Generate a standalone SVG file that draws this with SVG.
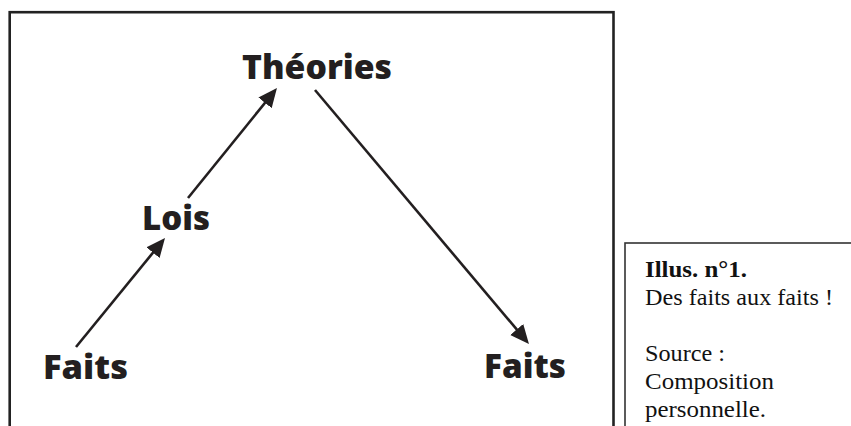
<svg xmlns="http://www.w3.org/2000/svg" width="851" height="426" viewBox="0 0 851 426">
  <style>
    .lbl { font-family: "Open Sans", "Noto Sans", sans-serif; font-weight: 800; font-size: 34px; fill: #231f20; }
    .cap { font-family: "Liberation Serif", serif; font-size: 23px; fill: #111; }
    .capb { font-weight: 700; }
    .edge { stroke: #231f20; stroke-width: 2.6; fill: none; marker-end: url(#ah); }
  </style>
  <defs>
    <marker id="ah" markerUnits="userSpaceOnUse" markerWidth="19" markerHeight="18" refX="13" refY="8.5" orient="auto">
      <path d="M0,0 L19,8.5 L0,17 z" fill="#231f20"/>
    </marker>
  </defs>
  <rect width="851" height="426" fill="#ffffff"/>
  <g id="frame">
    <rect x="9.7" y="12.2" width="603.8" height="430" fill="none" stroke="#222" stroke-width="2.6"/>
  </g>
  <g id="connectors">
    <line class="edge" x1="76" y1="347" x2="161.2" y2="242.6"/>
    <line class="edge" x1="188" y1="198" x2="273.2" y2="92.7"/>
    <line class="edge" x1="315" y1="90" x2="525.1" y2="339.4"/>
  </g>
  <g id="node-theories"><text class="lbl" x="242" y="79" textLength="150" lengthAdjust="spacingAndGlyphs">Théories</text></g>
  <g id="node-lois"><text class="lbl" x="142" y="230" textLength="68" lengthAdjust="spacingAndGlyphs">Lois</text></g>
  <g id="node-faits-1"><text class="lbl" x="43" y="379" textLength="85" lengthAdjust="spacingAndGlyphs">Faits</text></g>
  <g id="node-faits-2"><text class="lbl" x="484" y="378" textLength="82" lengthAdjust="spacingAndGlyphs">Faits</text></g>
  <g id="caption">
    <rect x="625" y="243" width="240" height="200" fill="none" stroke="#333" stroke-width="1.6"/>
    <text class="cap capb" x="645" y="277" textLength="102" lengthAdjust="spacingAndGlyphs">Illus. n°1.</text>
    <text class="cap" x="645" y="305" textLength="188" lengthAdjust="spacingAndGlyphs">Des faits aux faits !</text>
    <text class="cap" x="645" y="361" textLength="80" lengthAdjust="spacingAndGlyphs">Source :</text>
    <text class="cap" x="645" y="389" textLength="129" lengthAdjust="spacingAndGlyphs">Composition</text>
    <text class="cap" x="645" y="417" textLength="121" lengthAdjust="spacingAndGlyphs">personnelle.</text>
  </g>
</svg>
